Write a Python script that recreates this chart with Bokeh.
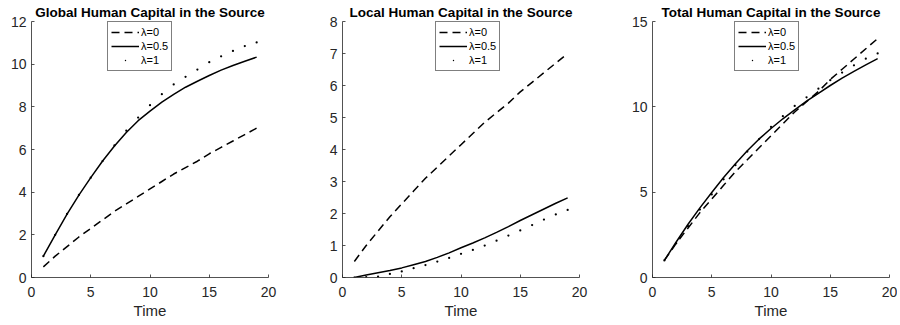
from bokeh.plotting import figure
from bokeh.layouts import row
from bokeh.models import Range1d, Legend, LegendItem, FixedTicker
from bokeh.embed import file_html
from bokeh.resources import INLINE

# ---- data ----
time = list(range(1, 20))
legend_labels = ["λ=0", "λ=0.5", "λ=1"]
titles = ["Global Human Capital in the Source",
          "Local Human Capital in the Source",
          "Total Human Capital in the Source"]
x_ticks = [0, 5, 10, 15, 20]

global_l0 = [0.5, 1.0, 1.45, 1.9, 2.3, 2.7, 3.1, 3.45, 3.8, 4.15, 4.5, 4.85, 5.15, 5.45, 5.8, 6.1, 6.4, 6.7, 7.0]
global_l05 = [1.0, 2.0, 2.97, 3.86, 4.68, 5.46, 6.16, 6.8, 7.35, 7.8, 8.22, 8.58, 8.92, 9.2, 9.47, 9.72, 9.94, 10.14, 10.33]
global_l1 = [1.0, 2.0, 2.98, 3.87, 4.68, 5.46, 6.19, 6.88, 7.5, 8.08, 8.59, 9.05, 9.41, 9.75, 10.09, 10.37, 10.62, 10.85, 11.02]

local_l0 = [0.5, 1.0, 1.45, 1.9, 2.3, 2.7, 3.1, 3.45, 3.8, 4.15, 4.5, 4.85, 5.15, 5.45, 5.8, 6.1, 6.4, 6.7, 7.0]
local_l05 = [0.0, 0.08, 0.15, 0.22, 0.3, 0.4, 0.5, 0.63, 0.77, 0.93, 1.08, 1.24, 1.41, 1.59, 1.78, 1.96, 2.14, 2.32, 2.49]
local_l1 = [0.0, 0.01, 0.03, 0.11, 0.19, 0.29, 0.39, 0.5, 0.61, 0.74, 0.86, 1.0, 1.15, 1.31, 1.47, 1.64, 1.81, 1.97, 2.11]

total_l0 = [1.0, 2.0, 2.9, 3.8, 4.6, 5.4, 6.2, 6.9, 7.6, 8.3, 9.0, 9.7, 10.3, 10.9, 11.6, 12.2, 12.8, 13.4, 14.0]
total_l05 = [1.0, 2.08, 3.12, 4.08, 4.98, 5.86, 6.66, 7.43, 8.12, 8.73, 9.3, 9.82, 10.33, 10.79, 11.25, 11.68, 12.08, 12.46, 12.82]
total_l1 = [1.0, 2.01, 3.01, 3.98, 4.87, 5.75, 6.58, 7.38, 8.11, 8.82, 9.45, 10.05, 10.56, 11.06, 11.56, 12.01, 12.43, 12.82, 13.13]

y_max = [12, 8, 15]
y_ticks = [[0, 2, 4, 6, 8, 10, 12], [0, 1, 2, 3, 4, 5, 6, 7, 8], [0, 5, 10, 15]]

FONT = "Liberation Sans"
AXC = "#262626"
FH = 256
LEG_H = 48


def panel(title, ymax, yt, s0, s05, s1, fw, bl, br, leg_x):
    p = figure(frame_width=fw, frame_height=FH, min_border_left=bl, min_border_right=br,
               min_border_top=21, min_border_bottom=46,
               output_backend="svg", toolbar_location=None,
               x_range=Range1d(0, 20), y_range=Range1d(0, ymax))
    p.outline_line_color = None
    p.grid.visible = False
    p.background_fill_color = "white"
    p.border_fill_color = "white"

    p.title.text = title
    p.title.align = "center"
    p.title.text_font = FONT
    p.title.text_font_size = "13.5px"
    p.title.text_font_style = "bold"
    p.title.text_color = "black"
    p.title.standoff = 3
    p.title.offset = 0

    for ax in (p.xaxis[0], p.yaxis[0]):
        ax.axis_line_color = AXC
        ax.axis_line_width = 0.8
        ax.major_tick_line_color = AXC
        ax.major_tick_line_width = 0.8
        ax.major_tick_in = 3
        ax.major_tick_out = 0
        ax.minor_tick_line_color = None
        ax.major_label_text_font = FONT
        ax.major_label_text_font_size = "14px"
        ax.major_label_text_color = AXC
    p.xaxis.ticker = FixedTicker(ticks=x_ticks)
    p.yaxis.ticker = FixedTicker(ticks=yt)
    p.xaxis.major_label_standoff = 9
    p.yaxis.major_label_standoff = 5
    p.xaxis.axis_label = "Time"
    p.xaxis.axis_label_text_font = FONT
    p.xaxis.axis_label_text_font_size = "15px"
    p.xaxis.axis_label_text_font_style = "normal"
    p.xaxis.axis_label_text_color = AXC
    p.xaxis.axis_label_standoff = 2

    r0 = p.line(time, s0, line_color="black", line_width=1.5, line_dash="8 5")
    r05 = p.line(time, s05, line_color="black", line_width=1.5)
    r1 = p.scatter(time, s1, marker="dot", size=9, fill_color="black", line_color="black", line_width=1)

    leg = Legend(items=[LegendItem(label=legend_labels[0], renderers=[r0]),
                        LegendItem(label=legend_labels[1], renderers=[r05]),
                        LegendItem(label=legend_labels[2], renderers=[r1])],
                 location=(leg_x, FH - 2 - LEG_H), margin=0, padding=3, spacing=0,
                 glyph_width=28, glyph_height=14, label_height=14, label_standoff=2,
                 label_text_font=FONT, label_text_font_size="11px", label_text_color="black",
                 border_line_color="black", border_line_width=1,
                 background_fill_color="white", background_fill_alpha=1)
    p.add_layout(leg)
    return p


p1 = panel(titles[0], y_max[0], y_ticks[0], global_l0, global_l05, global_l1, 237, 31, 30, 76)
p2 = panel(titles[1], y_max[1], y_ticks[1], local_l0, local_l05, local_l1, 237, 44, 17, 93)
p3 = panel(titles[2], y_max[2], y_ticks[2], total_l0, total_l05, total_l1, 237, 56, 8, 82)

layout = row(p1, p2, p3, spacing=0)
open("out.html", "w").write(file_html(layout, INLINE))
